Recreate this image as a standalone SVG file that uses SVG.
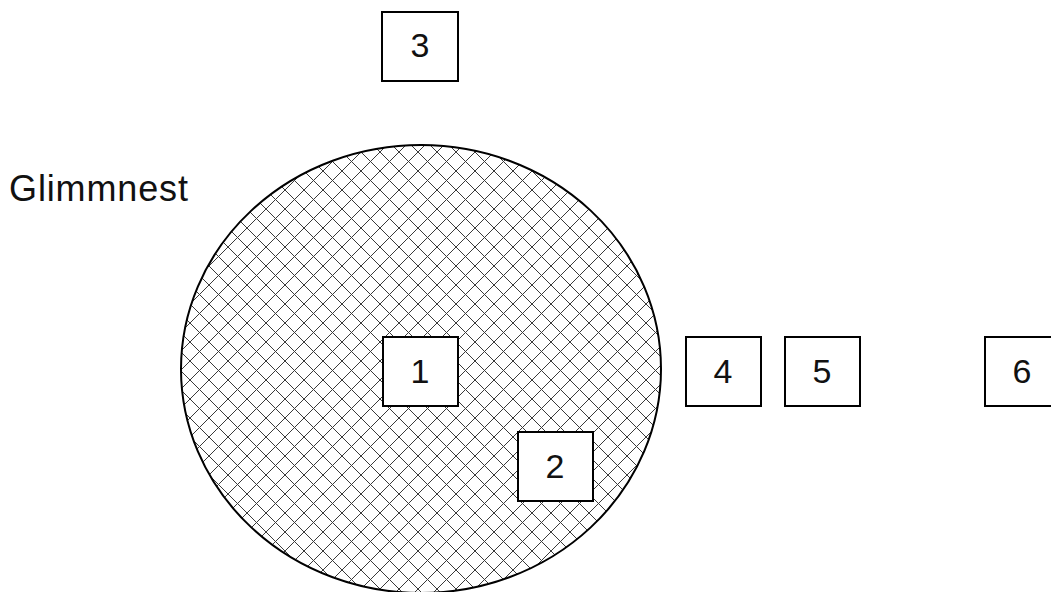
<svg xmlns="http://www.w3.org/2000/svg" width="1051" height="592" viewBox="0 0 1051 592">
  <style>
    .box { fill: #ffffff; stroke: #000000; stroke-width: 2; }
    .num { font-family: "Liberation Sans", Arial, sans-serif; font-size: 34px; fill: #111111; text-anchor: middle; }
    .lbl { font-family: "Liberation Sans", Arial, sans-serif; font-size: 36px; fill: #111111; }
  </style>
  <defs>
    <pattern id="hatch" patternUnits="userSpaceOnUse" width="19" height="19" x="0" y="0">
      <path d="M0,0 L19,19 M19,0 L0,19" stroke="#3a3a3a" stroke-width="1" fill="none"/>
    </pattern>
  </defs>
  <rect width="1051" height="592" fill="#ffffff"/>
  <g id="glimmnest">
    <ellipse cx="421" cy="369" rx="240" ry="224" fill="#ffffff"/>
    <ellipse cx="421" cy="369" rx="240" ry="224" fill="url(#hatch)" stroke="#000000" stroke-width="2"/>
    <text class="lbl" x="9" y="201" textLength="179" lengthAdjust="spacing">Glimmnest</text>
  </g>
  <g id="connectors"></g>
  <g id="n3">
    <rect class="box" x="382" y="12" width="76" height="69"/>
    <text class="num" x="420" y="57">3</text>
  </g>
  <g id="n1">
    <rect class="box" x="383" y="337" width="75" height="69"/>
    <text class="num" x="420" y="383">1</text>
  </g>
  <g id="n2">
    <rect class="box" x="518" y="432" width="75" height="69"/>
    <text class="num" x="555" y="478">2</text>
  </g>
  <g id="n4">
    <rect class="box" x="686" y="337" width="75" height="69"/>
    <text class="num" x="723" y="383">4</text>
  </g>
  <g id="n5">
    <rect class="box" x="785" y="337" width="75" height="69"/>
    <text class="num" x="822" y="383">5</text>
  </g>
  <g id="n6">
    <rect class="box" x="985" y="337" width="75" height="69"/>
    <text class="num" x="1022" y="383">6</text>
  </g>
</svg>
